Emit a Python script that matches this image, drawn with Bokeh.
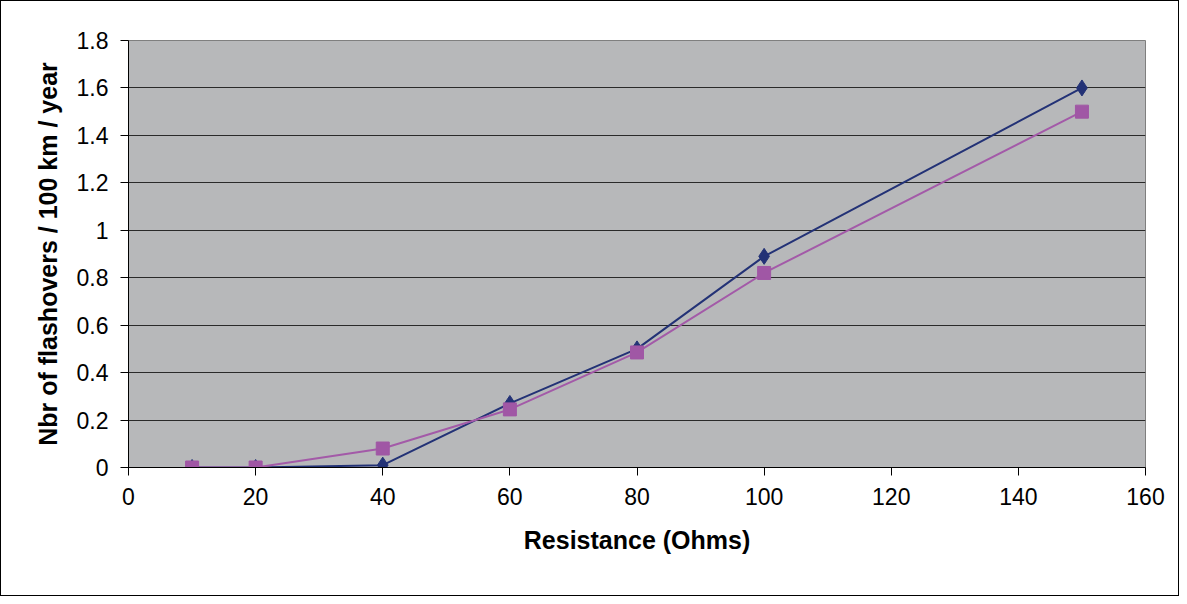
from bokeh.plotting import figure
from bokeh.models import FixedTicker, CustomJSTickFormatter, Range1d
from bokeh.embed import file_html
from bokeh.resources import INLINE

# Data
resistance = [10, 20, 40, 60, 80, 100, 150]
series_navy = [0.0, 0.0, 0.01, 0.27, 0.50, 0.89, 1.60]
series_magenta = [0.0, 0.0, 0.08, 0.245, 0.485, 0.82, 1.50]
x_ticks = [0, 20, 40, 60, 80, 100, 120, 140, 160]
y_ticks = [0, 0.2, 0.4, 0.6, 0.8, 1.0, 1.2, 1.4, 1.6, 1.8]
x_title = "Resistance (Ohms)"
y_title = "Nbr of flashovers / 100 km / year"

FONT = "Liberation Sans"

p = figure(width=1179, height=596, output_backend="svg", toolbar_location=None,
           x_range=Range1d(0, 160), y_range=Range1d(0, 1.8),
           min_border_left=127, min_border_top=39, min_border_right=35, min_border_bottom=130,
           background_fill_color="#B7B8BA", border_fill_color="white",
           outline_line_color="#7F7F7F", outline_line_width=1,
           styles={"border": "1px solid black"})

p.line(resistance, series_navy, line_color="#233276", line_width=2)
p.scatter(resistance, series_navy, marker="diamond", size=16,
          fill_color="#233276", line_color="#233276")
p.line(resistance, series_magenta, line_color="#A35AA8", line_width=2)
p.scatter(resistance, series_magenta, marker="square", size=13,
          fill_color="#A057A5", line_color="#A057A5")

p.xaxis.ticker = FixedTicker(ticks=x_ticks)
p.yaxis.ticker = FixedTicker(ticks=y_ticks)
p.yaxis.formatter = CustomJSTickFormatter(code="return String(Math.round(tick*10)/10);")

for ax in (p.xaxis, p.yaxis):
    ax.major_label_text_font = FONT
    ax.major_label_text_font_size = "23px"
    ax.major_label_text_color = "black"
    ax.axis_label_text_font = FONT
    ax.axis_label_text_font_size = "25px"
    ax.axis_label_text_font_style = "bold"
    ax.axis_label_text_color = "black"
    ax.axis_line_color = "black"
    ax.axis_line_width = 1
    ax.major_tick_line_color = "black"
    ax.major_tick_in = 0
    ax.major_tick_out = 8
    ax.minor_tick_line_color = None
    ax.major_label_standoff = 12

p.xaxis.axis_label = x_title
p.yaxis.axis_label = y_title
p.xaxis.axis_label_standoff = 18
p.yaxis.axis_label_standoff = 12

p.xgrid.grid_line_color = None
p.ygrid.grid_line_color = "#2A2A2A"
p.ygrid.grid_line_width = 1

open("out.html", "w").write(file_html(p, INLINE))
